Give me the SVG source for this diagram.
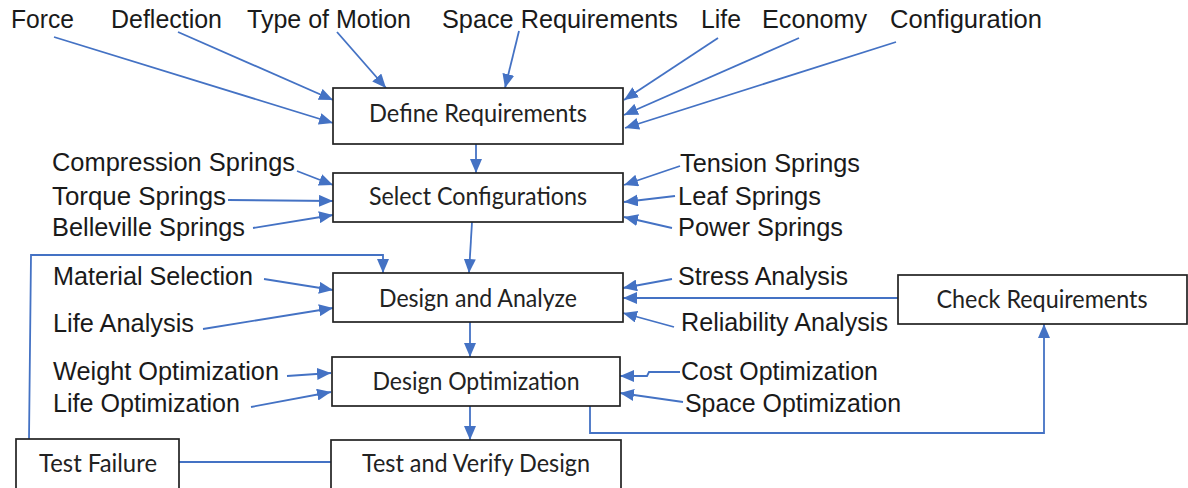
<svg xmlns="http://www.w3.org/2000/svg" width="1188" height="488" viewBox="0 0 1188 488">
<style>
.box{fill:#fff;stroke:#222;stroke-width:1.7}
.bt{font-family:Lato,"Open Sans",sans-serif;font-size:25px;fill:#222;text-anchor:middle}
.lb{font-family:"Liberation Sans",Arial,sans-serif;font-size:25px;fill:#1a1a1a}
.c{fill:none;stroke:#4472C4;stroke-width:1.8}
.a{marker-end:url(#ah)}
</style>
<defs>
<marker id="ah" viewBox="0 0 14 12" refX="14" refY="6" markerWidth="14" markerHeight="12" orient="auto" markerUnits="userSpaceOnUse">
<path d="M0,0 L14,6 L0,12 z" fill="#4472C4"/>
</marker>
</defs>
<rect width="1188" height="488" fill="#fff"/>
<g id="connectors">
<line class="c a" x1="54" y1="37" x2="333" y2="123"/>
<line class="c a" x1="178" y1="32" x2="333" y2="100"/>
<line class="c a" x1="337" y1="32" x2="386" y2="88"/>
<line class="c a" x1="519" y1="31" x2="505" y2="88"/>
<line class="c a" x1="718" y1="38" x2="624" y2="100"/>
<line class="c a" x1="799" y1="38" x2="624" y2="115"/>
<line class="c a" x1="896" y1="42" x2="625" y2="128"/>
<line class="c a" x1="476" y1="144" x2="476" y2="173"/>
<line class="c a" x1="297" y1="171" x2="333" y2="185"/>
<line class="c a" x1="228" y1="200" x2="333" y2="201"/>
<line class="c a" x1="253" y1="228" x2="333" y2="215"/>
<line class="c a" x1="680" y1="166" x2="624" y2="185"/>
<line class="c a" x1="675" y1="196" x2="624" y2="202"/>
<line class="c a" x1="672" y1="228" x2="624" y2="217"/>
<line class="c a" x1="472" y1="222" x2="469" y2="273"/>
<polyline class="c a" points="29,439 31,255 383,255 383,273"/>
<line class="c a" x1="264" y1="279" x2="333" y2="290"/>
<line class="c a" x1="203" y1="329" x2="333" y2="308"/>
<line class="c a" x1="672" y1="279" x2="623" y2="288"/>
<line class="c a" x1="898" y1="298" x2="623" y2="298"/>
<line class="c a" x1="674" y1="327" x2="623" y2="313"/>
<line class="c a" x1="470" y1="322" x2="470" y2="357"/>
<line class="c a" x1="287" y1="376" x2="331" y2="373"/>
<line class="c a" x1="251" y1="407" x2="331" y2="392"/>
<polyline class="c a" points="680,372 649,372 647,376 620,376"/>
<line class="c a" x1="683" y1="402" x2="620" y2="393"/>
<line class="c a" x1="470" y1="406" x2="470" y2="440"/>
<line class="c" x1="179" y1="462" x2="331" y2="462"/>
<polyline class="c a" points="590,406 590,433 1044,433 1044,324"/>
</g>
<g id="n-define"><rect class="box" x="333" y="88" width="290" height="56"/><text class="bt" x="478" y="122" textLength="218" lengthAdjust="spacingAndGlyphs">Define Requirements</text></g>
<g id="n-select"><rect class="box" x="333" y="173" width="290" height="49"/><text class="bt" x="478" y="205" textLength="218" lengthAdjust="spacingAndGlyphs">Select Configurations</text></g>
<g id="n-design"><rect class="box" x="333" y="273" width="290" height="49"/><text class="bt" x="478" y="307" textLength="198" lengthAdjust="spacingAndGlyphs">Design and Analyze</text></g>
<g id="n-optim"><rect class="box" x="332" y="357" width="288" height="49"/><text class="bt" x="476" y="390" textLength="207" lengthAdjust="spacingAndGlyphs">Design Optimization</text></g>
<g id="n-test"><rect class="box" x="331" y="440" width="290" height="52"/><text class="bt" x="476" y="472" textLength="228" lengthAdjust="spacingAndGlyphs">Test and Verify Design</text></g>
<g id="n-fail"><rect class="box" x="16" y="439" width="163" height="53"/><text class="bt" x="98" y="472" textLength="118" lengthAdjust="spacingAndGlyphs">Test Failure</text></g>
<g id="n-check"><rect class="box" x="898" y="275" width="289" height="49"/><text class="bt" x="1042" y="308" textLength="211" lengthAdjust="spacingAndGlyphs">Check Requirements</text></g>
<g id="labels">
<text class="lb" x="11" y="28" textLength="63" lengthAdjust="spacingAndGlyphs">Force</text>
<text class="lb" x="111" y="28" textLength="111" lengthAdjust="spacingAndGlyphs">Deflection</text>
<text class="lb" x="247" y="28" textLength="164" lengthAdjust="spacingAndGlyphs">Type of Motion</text>
<text class="lb" x="442" y="28" textLength="236" lengthAdjust="spacingAndGlyphs">Space Requirements</text>
<text class="lb" x="701" y="28" textLength="40" lengthAdjust="spacingAndGlyphs">Life</text>
<text class="lb" x="762" y="28" textLength="105" lengthAdjust="spacingAndGlyphs">Economy</text>
<text class="lb" x="890" y="28" textLength="152" lengthAdjust="spacingAndGlyphs">Configuration</text>
<text class="lb" x="52" y="171" textLength="243" lengthAdjust="spacingAndGlyphs">Compression Springs</text>
<text class="lb" x="52" y="205" textLength="174" lengthAdjust="spacingAndGlyphs">Torque Springs</text>
<text class="lb" x="52" y="236" textLength="193" lengthAdjust="spacingAndGlyphs">Belleville Springs</text>
<text class="lb" x="680" y="172" textLength="180" lengthAdjust="spacingAndGlyphs">Tension Springs</text>
<text class="lb" x="678" y="205" textLength="143" lengthAdjust="spacingAndGlyphs">Leaf Springs</text>
<text class="lb" x="678" y="236" textLength="165" lengthAdjust="spacingAndGlyphs">Power Springs</text>
<text class="lb" x="53" y="285" textLength="200" lengthAdjust="spacingAndGlyphs">Material Selection</text>
<text class="lb" x="53" y="332" textLength="141" lengthAdjust="spacingAndGlyphs">Life Analysis</text>
<text class="lb" x="53" y="380" textLength="226" lengthAdjust="spacingAndGlyphs">Weight Optimization</text>
<text class="lb" x="53" y="412" textLength="187" lengthAdjust="spacingAndGlyphs">Life Optimization</text>
<text class="lb" x="678" y="285" textLength="170" lengthAdjust="spacingAndGlyphs">Stress Analysis</text>
<text class="lb" x="681" y="331" textLength="207" lengthAdjust="spacingAndGlyphs">Reliability Analysis</text>
<text class="lb" x="681" y="380" textLength="197" lengthAdjust="spacingAndGlyphs">Cost Optimization</text>
<text class="lb" x="685" y="412" textLength="216" lengthAdjust="spacingAndGlyphs">Space Optimization</text>
</g>
</svg>
